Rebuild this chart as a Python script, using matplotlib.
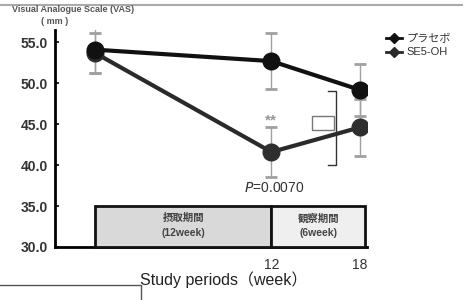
import matplotlib
matplotlib.use("Agg")
import matplotlib.pyplot as plt
from matplotlib.patches import Rectangle
from matplotlib.lines import Line2D

plt.rcParams['font.family'] = ['Liberation Sans', 'Noto Sans CJK JP', 'DejaVu Sans']

# data
weeks = [0, 12, 18]
placebo = [54.1, 52.7, 49.2]
placebo_sd = [2.9, 3.4, 3.2]
se5 = [53.7, 41.6, 44.6]
se5_sd = [2.4, 3.1, 3.5]
series_names = ["プラセボ", "SE5-OH"]
yticks = [30, 35, 40, 45, 50, 55]
xticks = [12, 18]
periods = ["摂取期間\n(12week)", "観察期間\n(6week)"]
period_edges = [0, 12, 18.35]

fig = plt.figure(figsize=(4.67, 3.0), dpi=100)
ax = fig.add_axes([55 / 467, 53 / 300, 312 / 467, 217 / 300])
ax.set_xlim(-2.72, 18.5)
ax.set_ylim(30, 56.5)

# error bars (thin gray stems, dark caps)
for vals, sd in [(placebo, placebo_sd), (se5, se5_sd)]:
    ax.errorbar(weeks, vals, yerr=sd, fmt='none', ecolor='#a0a0a0',
                elinewidth=1, capsize=4, capthick=2, zorder=2)

ax.plot(weeks, placebo, color='#111111', lw=3, marker='o', ms=12,
        mfc='#111111', mec='#111111', zorder=4)
ax.plot(weeks, se5, color='#2a2a2a', lw=3, marker='o', ms=12,
        mfc='#2e2e2e', mec='#2e2e2e', zorder=3)

# study period box
fills = ['#d9d9d9', '#efefef']
for i, label in enumerate(periods):
    x0, x1 = period_edges[i], period_edges[i + 1]
    ax.add_patch(Rectangle((x0, 30), x1 - x0, 5, facecolor=fills[i],
                           edgecolor='#111111', lw=2, zorder=5, clip_on=False))
    ax.text((x0 + x1) / 2, 32.6, label, ha='center', va='center',
            fontsize=7.5, color='#444444', linespacing=1.6, zorder=6,
            fontweight='bold')

# annotations
ax.text(12, 45.4, "**", ha='center', va='center', fontsize=11,
        color='#999999', fontweight='bold')
ax.text(12.2, 37.2, r"$\it{P}$=0.0070", ha='center', va='center',
        fontsize=10, color='#333333')
ax.plot([15.85, 16.4, 16.4, 15.85], [49.0, 49.0, 40.0, 40.0],
        color='#333333', lw=1)
ax.add_patch(Rectangle((14.74, 44.27), 1.52, 1.73, facecolor='white',
                       edgecolor='#777777', lw=1, zorder=1))

# axes styling
for s in ['top', 'right']:
    ax.spines[s].set_visible(False)
ax.spines['left'].set_linewidth(2)
ax.spines['bottom'].set_linewidth(2)
ax.set_yticks(yticks)
ax.set_yticklabels([f"{v:.1f}" for v in yticks], fontsize=10,
                   color='#333333', fontweight='bold')
ax.tick_params(axis='y', direction='in', length=3, width=1.2, pad=5)
ax.set_xticks(xticks)
ax.set_xticklabels([str(v) for v in xticks], fontsize=10, color='#333333')
ax.tick_params(axis='x', length=0, pad=8)
ax.set_xlabel("Study periods（week）", fontsize=11.5, color='#222222')
ax.xaxis.set_label_coords((224 - 55) / 312, -0.11)

# y label
fig.text(73 / 467, 1 - 10 / 300, "Visual Analogue Scale (VAS)",
         ha='center', va='center', fontsize=6.5, color='#555555',
         fontweight='bold')
fig.text(55 / 467, 1 - 22 / 300, "( mm )", ha='center', va='center',
         fontsize=6.5, color='#555555', fontweight='bold')

# legend
handles = [Line2D([], [], color='#111111', lw=2, marker='D', ms=5),
           Line2D([], [], color='#2a2a2a', lw=2, marker='D', ms=5)]
fig.legend(handles, series_names, loc='upper left',
           bbox_to_anchor=(376 / 467, 1 - 24 / 300), frameon=False,
           fontsize=8, handlelength=1.4, handletextpad=0.4,
           labelspacing=0.3, labelcolor='#333333')

# decorative frame lines from the scan
fig.add_artist(Line2D([0, 462 / 467], [1 - 4.5 / 300] * 2,
                      color='#aaaaaa', lw=1.5))
fig.add_artist(Line2D([0, 141 / 467, 141 / 467],
                      [15 / 300, 15 / 300, 0], color='#555555', lw=1))

fig.savefig("out.png", dpi=100)
